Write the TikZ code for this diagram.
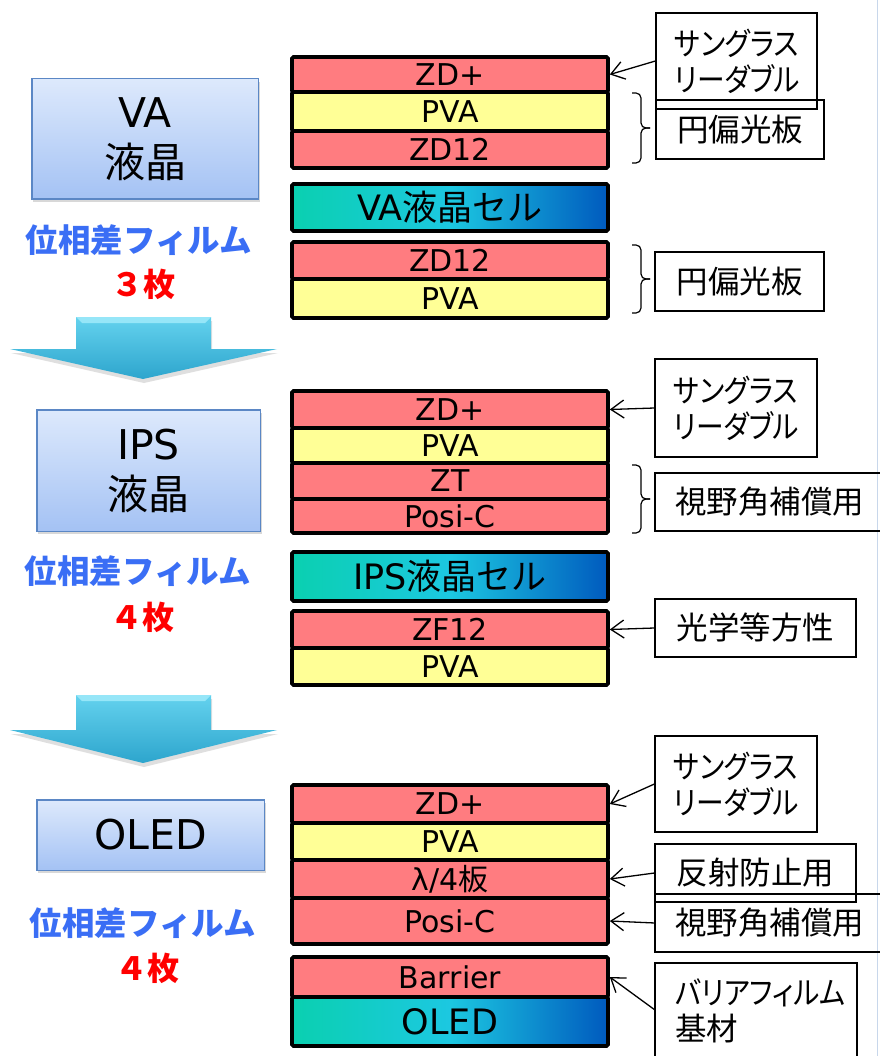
\documentclass[tikz,border=0pt]{standalone}
\usepackage{fontspec}
\setmainfont{DejaVu Sans}
\newfontfamily\jp{Noto Sans CJK JP}[CharacterWidth=AlternateProportional]
\newfontfamily\jpk{Noto Sans CJK JP}[CharacterWidth=AlternateProportional,FakeStretch=0.88]
\newfontfamily\jpf{Noto Sans CJK JP}
\usetikzlibrary{arrows.meta,shadows}
\definecolor{lred}{RGB}{255,124,128}
\definecolor{lyel}{RGB}{255,255,150}
\definecolor{cellL}{RGB}{10,208,176}
\definecolor{cellM}{RGB}{28,200,225}
\definecolor{cellR}{RGB}{0,90,190}
\definecolor{boxT}{RGB}{221,233,252}
\definecolor{boxB}{RGB}{164,194,244}
\definecolor{boxE}{RGB}{91,135,197}
\definecolor{jblue}{RGB}{58,110,245}
\definecolor{arrT}{RGB}{100,210,238}
\definecolor{arrB}{RGB}{45,165,205}
\definecolor{arrL}{RGB}{150,230,248}
\definecolor{edgeL}{RGB}{200,215,235}
\tikzset{
  laybox/.style={draw=black, line width=3.6pt, minimum width=316pt, rounded corners=1.5pt, inner sep=0pt, font=\fontsize{30}{31}\selectfont},
  cellbox/.style={laybox, left color=cellL, right color=cellR, middle color=cellM, font=\fontsize{35}{36}\selectfont},
  lbox/.style={draw=boxE, line width=1.5pt, top color=boxT, bottom color=boxB, align=center, inner sep=0pt,
    font=\fontsize{41}{50}\selectfont, drop shadow={shadow xshift=1.5pt, shadow yshift=-3pt, opacity=.3}},
  jlabel/.style={font=\jpf\bfseries\fontsize{32.5}{34}\selectfont, text=jblue, inner sep=0pt},
  nlabel/.style={font=\jpf\bfseries\fontsize{32}{34}\selectfont, text=red, inner sep=0pt},
  cbox/.style={draw=black, line width=1.2pt, inner sep=0pt, font=\jp\fontsize{31.5}{36}\selectfont},
  ctext/.style={font=\jp\fontsize{31.5}{36}\selectfont, align=left, inner sep=0pt},
  openbox/.style={draw=black, line width=1.2pt},
  conn/.style={line width=1.3pt, -{Straight Barb[length=13pt,width=18pt,line width=1.3pt]}},
  brc/.style={line width=1.2pt, rounded corners=5pt}
}
\newcommand\lay[5]{\node[laybox, fill=#2, minimum height=#4pt] (#1) at (450,#3) {#5};}
\newcommand\bigarrow[3]{%
  \path[drop shadow={shadow xshift=1pt,shadow yshift=-4pt,opacity=.25}, top color=arrT, bottom color=arrB]
    (76,#1) -- (211,#1) -- (211,#2) -- (277,#2) -- (143,#3) -- (10,#2) -- (76,#2) -- cycle;
  \fill[arrL] (76,#1) -- (211,#1) -- (205,{#1+6}) -- (82,{#1+6}) -- cycle;
}
% right brace: top y, middle y, bottom y
\newcommand\rbr[3]{%
  \draw[brc] (632,#1) -- (641,#1) -- (641,#2) -- (650,#2);
  \draw[brc] (650,#2) -- (641,#2) -- (641,#3) -- (632,#3);
}
\begin{document}
\begin{tikzpicture}[x=1pt,y=-1pt]
\useasboundingbox (0,0) rectangle (879,1056);
\fill[white] (0,0) rectangle (879,1056);
\draw[edgeL, line width=1pt] (877,0) -- (877,1056);

% ---------- left column ----------
\node[lbox, minimum width=226.5pt, minimum height=120.5pt] (va) at (145,139) {VA\\{\jpf 液晶}};
\node[jlabel] (vaj) at (139,240) {位相差フィルム};
\node[nlabel] (van) at (143,284) {３枚};
\bigarrow{317}{349}{379}
\node[lbox, minimum width=223.5pt, minimum height=121.5pt] (ips) at (148.5,470.5) {IPS\\{\jpf 液晶}};
\node[jlabel] (ipsj) at (138,571) {位相差フィルム};
\node[nlabel] (ipsn) at (142,617) {４枚};
\bigarrow{695}{730}{763}
\node[lbox, minimum width=227.5pt, minimum height=70.5pt] (oled) at (150.5,835) {OLED};
\node[jlabel] (oledj) at (143,923) {位相差フィルム};
\node[nlabel] (oledn) at (147,968) {４枚};

% ---------- VA stack ----------
\lay{L1}{lred}{74.5}{35}{ZD+}
\lay{L2}{lyel}{111.5}{39}{PVA}
\lay{L3}{lred}{149.5}{37}{ZD12}
\node[cellbox, minimum height=47pt] (C1) at (450,207.5) {VA{\jpf 液晶セル}};
\lay{L4}{lred}{260.5}{37}{ZD12}
\lay{L5}{lyel}{298.5}{39}{PVA}

% ---------- IPS stack ----------
\lay{L6}{lred}{409.5}{37}{ZD+}
\lay{L7}{lyel}{445.5}{35}{PVA}
\lay{L8}{lred}{481}{36}{ZT}
\lay{L9}{lred}{516}{34}{Posi-C}
\node[cellbox, minimum height=49pt] (C2) at (450,576.5) {IPS{\jpf 液晶セル}};
\lay{L10}{lred}{629.5}{37}{ZF12}
\lay{L11}{lyel}{666.5}{37}{PVA}

% ---------- OLED stack ----------
\lay{L12}{lred}{804}{38}{ZD+}
\lay{L13}{lyel}{841.5}{37}{PVA}
\lay{L14}{lred}{879}{38}{λ/4{\jpf 板}}
\lay{L15}{lred}{921}{46}{Posi-C}
\lay{L16}{lred}{977}{40}{Barrier}
\node[cellbox, minimum height=49pt] (C3) at (450,1021.5) {OLED};

% ---------- callouts VA ----------
\node[cbox, minimum width=161pt, minimum height=96pt] (c1) at (736.5,61) {};
\node[ctext, anchor=west] (t1) at ([xshift=19pt]c1.west) {\jpk サングラス\\\jpk リーダブル};
\draw[conn] (c1.west) -- (L1.east);
\node[cbox, minimum width=168pt, minimum height=59pt] (c2) at (740,129.5) {円偏光板};
\rbr{93}{128}{163}
\node[cbox, minimum width=169pt, minimum height=59pt] (c3) at (739.5,281.5) {円偏光板};
\rbr{245}{279}{313}

% ---------- callouts IPS ----------
\node[cbox, minimum width=162pt, minimum height=98pt] (c4) at (736,408) {};
\node[ctext, anchor=west] (t4) at ([xshift=19pt]c4.west) {\jpk サングラス\\\jpk リーダブル};
\draw[conn] (c4.west) -- (L6.east);
\draw[openbox] (880,473) -- (655,473) -- (655,531) -- (880,531);
\node[ctext, anchor=west] (t5) at (675,502) {視野角補償用};
\rbr{465}{499}{533}
\node[cbox, minimum width=201pt, minimum height=58pt] (c6) at (755.5,628) {光学等方性};
\draw[conn] (c6.west) -- (L10.east);

% ---------- callouts OLED ----------
\node[cbox, minimum width=162pt, minimum height=96pt] (c7) at (736,784) {};
\node[ctext, anchor=west] (t7) at ([xshift=19pt]c7.west) {\jpk サングラス\\\jpk リーダブル};
\draw[conn] (c7.west) -- (L12.east);
\node[cbox, minimum width=201pt, minimum height=58pt] (c8) at (755.5,873) {反射防止用};
\draw[conn] (c8.west) -- (L14.east);
\draw[openbox] (880,894) -- (655,894) -- (655,952) -- (880,952);
\coordinate (c9) at (655,923);
\node[ctext, anchor=west] (t9) at (675,923) {視野角補償用};
\draw[conn] (c9) -- (L15.east);
\draw[openbox] (655,1058) -- (655,963) -- (857,963) -- (857,1058);
\coordinate (c10) at (655,1010);
\node[ctext, anchor=north west] (t10) at (675,978) {\jpk バリアフィルム\\基材};
\draw[conn] (c10) -- (L16.east);
\end{tikzpicture}
\end{document}
